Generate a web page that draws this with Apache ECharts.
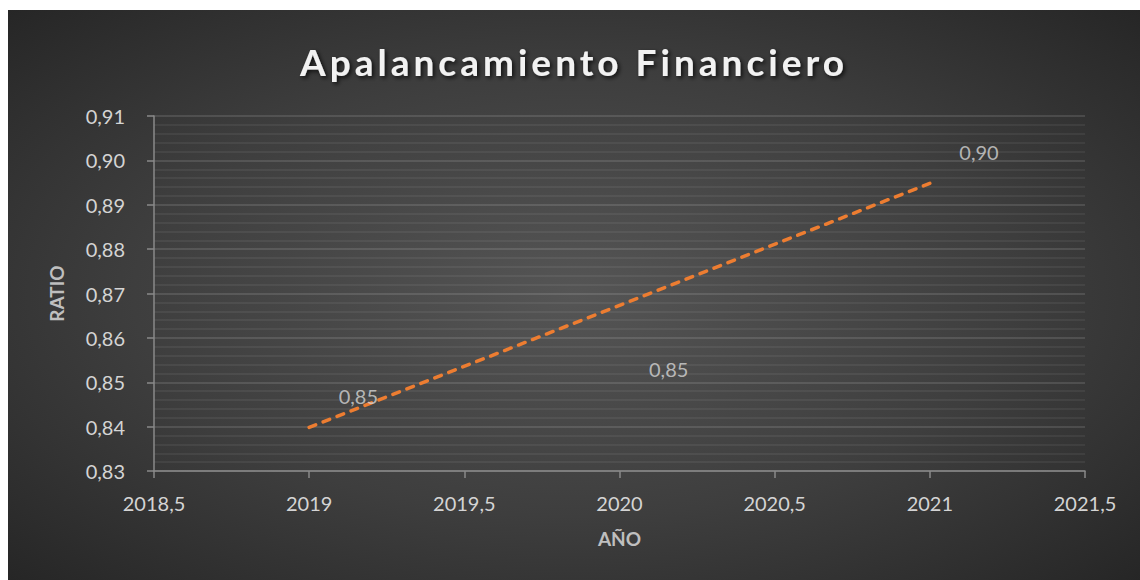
<!DOCTYPE html>
<html>
<head>
<meta charset="utf-8">
<script src="https://cdn.jsdelivr.net/npm/echarts@6/dist/echarts.min.js"></script>
<style>
  body { margin: 0; background: #ffffff; }
  #chart {
    position: absolute; left: 8px; top: 10px; width: 1132px; height: 570px;
    background: radial-gradient(ellipse at 50% 50%, #555555 0%, #3e3e3e 55%, #262626 100%);
  }
  /* espaciado del título, como en Excel */
  #chart text[style*="37px"] { letter-spacing: 4px; }
</style>
</head>
<body>
<div id="chart"></div>
<script>
// datos
const years = [2019, 2020, 2021];
const ratios = [0.847, 0.853, 0.902];
const xRange = [2018.5, 2021.5];
const yRange = [0.83, 0.91];

// línea de tendencia lineal (mínimos cuadrados)
function trend(xs, ys) {
  let n = xs.length, mx = 0, my = 0;
  xs.forEach((x, i) => { mx += x; my += ys[i]; });
  mx /= n; my /= n;
  let sxy = 0, sxx = 0;
  xs.forEach((x, i) => { sxy += (x - mx) * (ys[i] - my); sxx += (x - mx) * (x - mx); });
  let b = sxy / sxx, a = my - b * mx;
  let x0 = xs[0], x1 = xs[n - 1];
  return [[x0, a + b * x0], [x1, a + b * x1]];
}

const comma = v => String(v).replace('.', ',');
const labelFont = 'Lato';

let chart = echarts.init(document.getElementById('chart'), null, { renderer: 'svg' });
chart.setOption({
  backgroundColor: 'transparent',
  animation: false,
  title: {
    text: 'Apalancamiento Financiero',
    left: 'center',
    top: 28,
    textStyle: {
      fontFamily: labelFont,
      fontWeight: 'bold',
      fontSize: 37,
      color: '#f2f2f2',
      textShadowColor: 'rgba(0,0,0,0.75)',
      textShadowBlur: 4,
      textShadowOffsetX: 2,
      textShadowOffsetY: 2
    }
  },
  grid: { left: 146, right: 55, top: 106, bottom: 109 },
  xAxis: {
    type: 'value',
    min: xRange[0],
    max: xRange[1],
    interval: 0.5,
    name: 'AÑO',
    nameLocation: 'middle',
    nameGap: 58,
    nameTextStyle: { fontFamily: labelFont, fontWeight: 'bold', fontSize: 19, color: '#bfbfbf' },
    axisLine: { lineStyle: { color: '#8a8a8a', width: 1.5 } },
    axisTick: { show: true, length: 7, lineStyle: { color: '#8a8a8a', width: 1.5 } },
    axisLabel: { margin: 22, fontFamily: labelFont, fontSize: 20, color: '#d4d4d4', formatter: v => comma(v) },
    splitLine: { show: false }
  },
  yAxis: {
    type: 'value',
    min: yRange[0],
    max: yRange[1],
    interval: 0.01,
    name: 'RATIO',
    nameLocation: 'middle',
    nameRotate: 90,
    nameGap: 88,
    nameTextStyle: { fontFamily: labelFont, fontWeight: 'bold', fontSize: 19, color: '#bfbfbf' },
    axisLine: { show: true, lineStyle: { color: '#8a8a8a', width: 1.5 } },
    axisTick: { show: true, length: 7, lineStyle: { color: '#8a8a8a', width: 1.5 } },
    axisLabel: { margin: 29, fontFamily: labelFont, fontSize: 20, color: '#d4d4d4', formatter: v => comma(v.toFixed(2)) },
    splitLine: { lineStyle: { color: 'rgba(255,255,255,0.16)', width: 1.5 } },
    minorTick: { show: false, splitNumber: 5 },
    minorSplitLine: { show: true, lineStyle: { color: 'rgba(255,255,255,0.08)', width: 1.5 } }
  },
  series: [
    {
      type: 'line',
      data: trend(years, ratios),
      showSymbol: false,
      silent: true,
      lineStyle: { color: '#ed7d31', width: 3.5, type: [7, 8], cap: 'round' },
      z: 2
    },
    {
      type: 'scatter',
      data: years.map((y, i) => [y, ratios[i]]),
      symbolSize: 1,
      itemStyle: { color: 'rgba(0,0,0,0)' },
      label: {
        show: true,
        position: 'right',
        distance: 29,
        fontFamily: labelFont,
        fontSize: 20,
        color: '#d4d4d4',
        formatter: p => comma(p.value[1].toFixed(2))
      },
      z: 3
    }
  ]
});
</script>
</body>
</html>
